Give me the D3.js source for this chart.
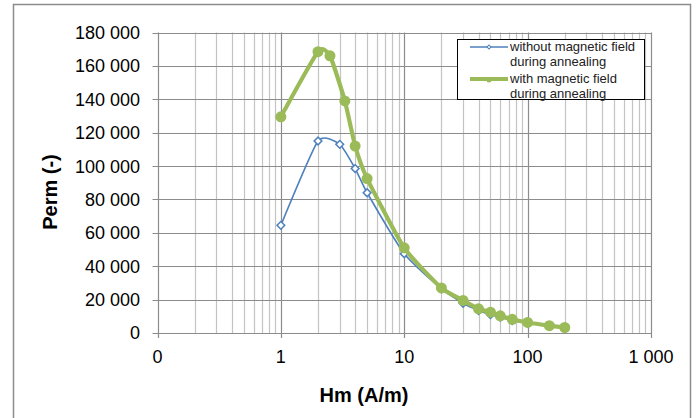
<!DOCTYPE html>
<html lang="en">
<head>
<meta charset="utf-8">
<style>
  body { margin: 0; background: #fff; }
  svg text { font-family: "Liberation Sans", Arial, sans-serif; }
  .tick-label { font-size: 18px; fill: #000; }
  .axis-title { font-size: 20px; font-weight: bold; fill: #000; }
  .legend text { font-size: 13px; fill: #222; }
</style>
</head>
<body>
<svg width="699" height="418"></svg>
<script src="https://d3js.org/d3.v7.min.js"></script>
<script>
// data
var withoutX = [1, 2, 3, 4, 5, 10, 20, 30, 40, 50, 60, 75, 100, 150, 200];
var withoutY = [64500, 115000, 113000, 98500, 84000, 47500, 26500, 17800, 13500, 11000, 9500, 7500, 5800, 4200, 3100];
var withX = [1, 2, 2.5, 3.3, 4, 5, 10, 20, 30, 40, 50, 60, 75, 100, 150, 200];
var withY = [129500, 168500, 166000, 139000, 112000, 92500, 51000, 27000, 19500, 14500, 12500, 10300, 8200, 6300, 4400, 3300];
var xTicks = [0.1, 1, 10, 100, 1000];
var xTickLabels = ["0", "1", "10", "100", "1 000"];
var yTicks = [0, 20000, 40000, 60000, 80000, 100000, 120000, 140000, 160000, 180000];
var seriesNames = [["without magnetic field", "during annealing"], ["with magnetic field", "during annealing"]];

var svg = d3.select("svg");
var plot = {left: 157.5, right: 651, top: 32.5, bottom: 333};

var x = d3.scaleLog().domain([0.1, 1000]).range([plot.left, plot.right]);
var y = d3.scaleLinear().domain([0, 180000]).range([plot.bottom, plot.top]);
var fmt = d3.formatLocale({decimal: ".", thousands: " ", grouping: [3], currency: ["", ""]}).format(",d");

// outer frame
svg.append("rect")
  .attr("x", 13.5).attr("y", 4.5)
  .attr("width", 677).attr("height", 430)
  .attr("fill", "none").attr("stroke", "#8c8c8c").attr("stroke-width", 1.5);

// minor vertical grid
var minor = [];
for (var d = 0.1; d < 1000; d *= 10) {
  for (var k = 2; k <= 9; k++) minor.push(d * k);
}
svg.append("g").selectAll("line").data(minor).enter().append("line")
  .attr("x1", function(v) { return Math.round(x(v)) + 0.5; })
  .attr("x2", function(v) { return Math.round(x(v)) + 0.5; })
  .attr("y1", plot.top).attr("y2", plot.bottom)
  .attr("stroke", "#c4c4c4").attr("stroke-width", 1.2);

// major vertical grid + ticks
svg.append("g").selectAll("line").data(xTicks).enter().append("line")
  .attr("x1", function(v) { return Math.round(x(v)) + 0.5; })
  .attr("x2", function(v) { return Math.round(x(v)) + 0.5; })
  .attr("y1", plot.top).attr("y2", plot.bottom + 5)
  .attr("stroke", "#8c8c8c").attr("stroke-width", 1.2);

// horizontal grid + ticks
svg.append("g").selectAll("line").data(yTicks).enter().append("line")
  .attr("x1", plot.left - 5).attr("x2", plot.right)
  .attr("y1", function(v) { return Math.round(y(v)) + 0.5; })
  .attr("y2", function(v) { return Math.round(y(v)) + 0.5; })
  .attr("stroke", "#8c8c8c").attr("stroke-width", 1.2);

// tick labels
svg.append("g").selectAll("text").data(yTicks).enter().append("text")
  .attr("class", "tick-label")
  .attr("x", 140).attr("y", function(v) { return y(v); })
  .attr("dy", "0.36em").attr("text-anchor", "end")
  .text(function(v) { return fmt(v); });

svg.append("g").selectAll("text").data(xTicks).enter().append("text")
  .attr("class", "tick-label")
  .attr("x", function(v) { return x(v); }).attr("y", 363)
  .attr("text-anchor", "middle")
  .text(function(v, i) { return xTickLabels[i]; });

// axis titles
svg.append("text").attr("class", "axis-title")
  .attr("x", 364).attr("y", 402).attr("text-anchor", "middle")
  .text("Hm (A/m)");
svg.append("text").attr("class", "axis-title")
  .attr("transform", "translate(57,192) rotate(-90)")
  .attr("text-anchor", "middle")
  .text("Perm (-)");

var line = d3.line()
  .x(function(d) { return x(d[0]); })
  .y(function(d) { return y(d[1]); })
  .curve(d3.curveCardinal.tension(0.45));

var blue = withoutX.map(function(v, i) { return [v, withoutY[i]]; });
var green = withX.map(function(v, i) { return [v, withY[i]]; });
var diamond = d3.symbol().type(d3.symbolSquare).size(30);

// blue series
svg.append("path").datum(blue).attr("d", line)
  .attr("fill", "none").attr("stroke", "#4F81BD").attr("stroke-width", 1.6);
svg.append("g").selectAll("path").data(blue).enter().append("path")
  .attr("d", diamond)
  .attr("transform", function(d) { return "translate(" + x(d[0]) + "," + y(d[1]) + ") rotate(45)"; })
  .attr("fill", "#fff").attr("stroke", "#4F81BD").attr("stroke-width", 1.5);

// green series
svg.append("path").datum(green).attr("d", line)
  .attr("fill", "none").attr("stroke", "#9BBB59").attr("stroke-width", 4.2);
svg.append("g").selectAll("circle").data(green).enter().append("circle")
  .attr("cx", function(d) { return x(d[0]); })
  .attr("cy", function(d) { return y(d[1]); })
  .attr("r", 5.5).attr("fill", "#9BBB59");

// legend
var legend = svg.append("g").attr("class", "legend");
legend.append("rect")
  .attr("x", 457.5).attr("y", 39.5).attr("width", 187).attr("height", 60)
  .attr("fill", "#fff").attr("stroke", "#000").attr("stroke-width", 1);
var rows = legend.selectAll("g.row").data(seriesNames).enter().append("g")
  .attr("class", "row")
  .attr("transform", function(d, i) { return "translate(0," + (i * 32) + ")"; });
rows.append("text").attr("x", 510).attr("y", 51)
  .text(function(d) { return d[0]; });
rows.append("text").attr("x", 510).attr("y", 66)
  .text(function(d) { return d[1]; });
rows.append("line")
  .attr("x1", 470).attr("x2", 508).attr("y1", 47).attr("y2", 47)
  .attr("stroke", function(d, i) { return i ? "#9BBB59" : "#4F81BD"; })
  .attr("stroke-width", function(d, i) { return i ? 4.2 : 1.6; });
legend.append("path").attr("d", d3.symbol().type(d3.symbolSquare).size(8))
  .attr("transform", "translate(489,47) rotate(45)")
  .attr("fill", "#fff").attr("stroke", "#4F81BD").attr("stroke-width", 1);
legend.append("circle").attr("cx", 489).attr("cy", 80).attr("r", 2.5).attr("fill", "#9BBB59");
</script>
</body>
</html>
